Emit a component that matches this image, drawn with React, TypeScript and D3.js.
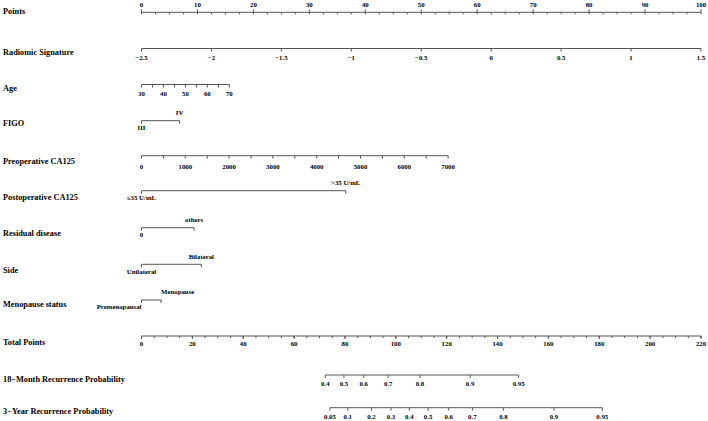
import React from "react";
import * as d3 from "d3";

const W = 708, H = 421;
const FONT = "'Liberation Serif', 'Times New Roman', serif";

// Points scale
const pointsTicks = d3.range(0, 101, 10);
const pointsMinor = d3.range(0, 100.01, 2.5);

// Radiomic signature: value -> points
const radDomain = [-2.5, 1.5];
const radTicks = [-2.5, -2, -1.5, -1, -0.5, 0, 0.5, 1, 1.5];

// Age
const ageDomain = [30, 70];
const agePointsMax = 15.7;
const ageLabels = [30, 40, 50, 60, 70];
const ageMinor = [35, 45, 55, 65];

// Preoperative CA125
const caDomain = [0, 7000];
const caPointsMax = 54.8;
const caLabels = [0, 1000, 2000, 3000, 4000, 5000, 6000, 7000];
const caMinor = [500, 1500, 2500, 3500, 4500, 5500, 6500];

// Categorical variables: [label, points]
const figoCats: [string, number][] = [["III", 0], ["IV", 6.8]];
const postopCats: [string, number][] = [["≤35 U/mL", 0], [">35 U/mL", 36.5]];
const residualCats: [string, number][] = [["0", 0], ["others", 9.4]];
const sideCats: [string, number][] = [["Unilateral", 0], ["Bilateral", 10.7]];
const menoCats: [string, number][] = [["Premenopausal", 0], ["Menopause", 3.5]];

// Total points
const totalTicks = d3.range(0, 221, 20);
const totalMinor = d3.range(0, 220.01, 5);

// Probability axes: probability labels and their total-points positions
const prob18Labels = ["0.4", "0.5", "0.6", "0.7", "0.8", "0.9", "0.95"];
const prob18Points = [72.3, 79.6, 87.4, 97.0, 109.5, 129.2, 148.3];
const prob3yLabels = ["0.05", "0.1", "0.2", "0.3", "0.4", "0.5", "0.6", "0.7", "0.8", "0.9", "0.95"];
const prob3yPoints = [74.1, 81.1, 90.4, 98.1, 105.3, 112.7, 120.8, 130.1, 142.3, 162.2, 181.2];

const X0 = 141.5, X1 = 701;
const xPts = d3.scaleLinear().domain([0, 100]).range([X0, X1]);
const xTot = d3.scaleLinear().domain([0, 220]).range([X0, X1]);
const radToPts = d3.scaleLinear().domain(radDomain).range([0, 100]);
const ageToPts = d3.scaleLinear().domain(ageDomain).range([0, agePointsMax]);
const caToPts = d3.scaleLinear().domain(caDomain).range([0, caPointsMax]);

const STROKE = "#555";
const LBL = 8.3;
const TK = 6.8;

const fmt = (v: number) => String(v).replace("-", "−");

function RowLabel({ y, text }: { y: number; text: string }) {
  return (
    <text x={3} y={y} dy="0.35em" fontFamily={FONT} fontWeight="bold" fontSize={LBL} fill="#000">
      {text}
    </text>
  );
}

function TickLabel({ x, y, text, anchor = "middle" }: { x: number; y: number; text: string; anchor?: string }) {
  return (
    <text x={x} y={y} dy="0.35em" textAnchor={anchor as any} fontFamily={FONT} fontWeight="bold" fontSize={TK} fill="#000">
      {text}
    </text>
  );
}

function ContAxis({ y, majors, minors, labels, labelY, majorUp = false, minorLen = 2 }:
  { y: number; majors: number[]; minors: number[]; labels: string[]; labelY: number; majorUp?: boolean; minorLen?: number }) {
  const lo = Math.min(...majors, ...minors), hi = Math.max(...majors, ...minors);
  return (
    <g>
      <line x1={lo} x2={hi} y1={y} y2={y} stroke={STROKE} strokeWidth={1} />
      {minors.map((x, i) => (
        <line key={"m" + i} x1={x} x2={x} y1={y} y2={y + minorLen} stroke={STROKE} strokeWidth={1} />
      ))}
      {majors.map((x, i) => (
        <line key={"M" + i} x1={x} x2={x} y1={y} y2={majorUp ? y - 3 : y + 3} stroke={STROKE} strokeWidth={1} />
      ))}
      {majors.map((x, i) => (
        <TickLabel key={"l" + i} x={x} y={labelY} text={labels[i]} />
      ))}
    </g>
  );
}

function CatAxis({ y, cats, anchors }: { y: number; cats: [string, number][]; anchors?: string[] }) {
  const xs = cats.map((c) => xPts(c[1]));
  return (
    <g>
      <line x1={xs[0]} x2={xs[xs.length - 1]} y1={y} y2={y} stroke={STROKE} strokeWidth={1} />
      {xs.map((x, i) => (
        <line key={i} x1={x} x2={x} y1={y} y2={y + 3} stroke={STROKE} strokeWidth={1} />
      ))}
      {cats.map((c, i) => (
        <TickLabel key={"l" + i} x={xs[i]} y={i === 0 ? y + 7 : y - 8} text={c[0]} anchor={anchors ? anchors[i] : "middle"} />
      ))}
    </g>
  );
}

export default function App() {
  return (
    <svg width={W} height={H} style={{ position: "absolute", left: 0, top: 0, background: "#fff" }}>
      <rect width={W} height={H} fill="#fff" />
      {/* Points */}
      <RowLabel y={10.7} text="Points" />
      <ContAxis y={12.3} majors={pointsTicks.map(xPts)} minors={pointsMinor.map(xPts)}
        labels={pointsTicks.map(fmt)} labelY={5} majorUp />

      {/* Radiomic Signature */}
      <RowLabel y={51.7} text="Radiomic Signature" />
      <ContAxis y={48.5} majors={radTicks.map((v) => xPts(radToPts(v)))} minors={[]}
        labels={radTicks.map(fmt)} labelY={58} />

      {/* Age */}
      <RowLabel y={88.3} text="Age" />
      <ContAxis y={84.5} majors={ageLabels.map((v) => xPts(ageToPts(v)))}
        minors={ageMinor.map((v) => xPts(ageToPts(v)))} minorLen={3}
        labels={ageLabels.map(fmt)} labelY={94} />

      {/* FIGO */}
      <RowLabel y={123.3} text="FIGO" />
      <CatAxis y={120.7} cats={figoCats} />

      {/* Preoperative CA125 */}
      <RowLabel y={160.7} text="Preoperative CA125" />
      <ContAxis y={155.7} majors={caLabels.map((v) => xPts(caToPts(v)))}
        minors={caMinor.map((v) => xPts(caToPts(v)))} minorLen={3}
        labels={caLabels.map(fmt)} labelY={166.5} />

      {/* Postoperative CA125 */}
      <RowLabel y={196.7} text="Postoperative CA125" />
      <CatAxis y={190.7} cats={postopCats} />

      {/* Residual disease */}
      <RowLabel y={233.3} text="Residual disease" />
      <CatAxis y={227.7} cats={residualCats} />

      {/* Side */}
      <RowLabel y={270} text="Side" />
      <CatAxis y={264.3} cats={sideCats} />

      {/* Menopause status */}
      <RowLabel y={304.5} text="Menopause status" />
      <CatAxis y={300} cats={menoCats} anchors={["end", "start"]} />

      {/* Total Points */}
      <RowLabel y={341.7} text="Total Points" />
      <ContAxis y={336} majors={totalTicks.map(xTot)} minors={totalMinor.map(xTot)}
        labels={totalTicks.map(fmt)} labelY={343.5} />

      {/* 18-Month */}
      <RowLabel y={379} text="18−Month Recurrence Probability" />
      <ContAxis y={375} majors={prob18Points.map(xTot)} minors={[]}
        labels={prob18Labels} labelY={383.3} />

      {/* 3-Year */}
      <RowLabel y={411} text="3−Year Recurrence Probability" />
      <ContAxis y={407.7} majors={prob3yPoints.map(xTot)} minors={[]}
        labels={prob3yLabels} labelY={416.5} />
    </svg>
  );
}
